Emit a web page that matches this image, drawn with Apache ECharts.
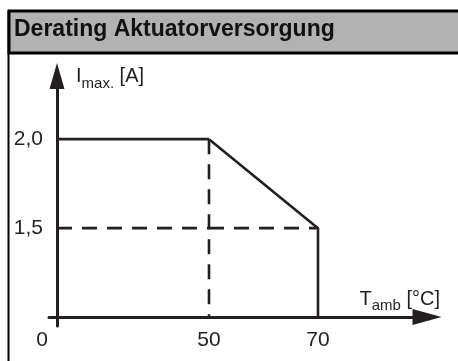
<!DOCTYPE html>
<html><head><meta charset="utf-8">
<script src="https://cdn.jsdelivr.net/npm/echarts@6/dist/echarts.min.js"></script>
<style>html,body{margin:0;padding:0;background:#fff}#c{width:458px;height:361px}</style>
</head><body><div id="c"></div>
<script>
// ---- data ----
const chartTitle = 'Derating Aktuatorversorgung';
const tempC = [0, 50, 70, 70];          // ambient temperature [°C]
const iMaxA = [2.0, 2.0, 1.5, 1.0];     // max current [A]
const kneeT = 50;                       // derating starts here (axis scale changes here)
const guideT = 50;                      // dashed vertical guide
const guideI = 1.5;                     // dashed horizontal guide
const yBase = 1.0;                      // value at the horizontal axis
const xTickValues = [0, 50, 70];
const xTickLabels = ['0', '50', '70'];
const yTickValues = [1.5, 2.0];
const yTickLabels = ['1,5', '2,0'];

// ---- layout / style ----
const FONT = "'Liberation Sans', Arial, sans-serif";
const INK = '#231f20';
const yMin = 0.95, yMax = 2.355;
const x1Min = -50 * 8 / 152, x2Max = 90;

const pts = tempC.map((t, i) => [t, iMaxA[i]]);
const leftPts = pts.filter(p => p[0] <= kneeT);
const rightPts = pts.filter(p => p[0] >= kneeT);
const iAtGuide = iMaxA[tempC.indexOf(guideT)];
const tEnd = tempC[tempC.length - 1];

function fmtX(v) {
  const i = xTickValues.indexOf(v);
  const s = i >= 0 ? xTickLabels[i] : '';
  return v === 0 ? '{o|' + s + '}' : s;
}
function fmtY(v) {
  const i = yTickValues.findIndex(t => Math.abs(t - v) < 1e-9);
  return i >= 0 ? yTickLabels[i] : '';
}

const solid = {color: INK, width: 2.6};
const dashed = {color: INK, width: 2.6, type: [15, 10]};
const baseSeries = {type: 'line', symbol: 'none', clip: false, silent: true, animation: false};

const axisLineStyle = {color: INK, width: 3};
const labelStyle = {fontFamily: FONT, fontSize: 21, color: INK};

const option = {
  animation: false,
  title: {
    text: chartTitle, left: 14, top: 18, padding: 0, z: 10,
    textStyle: {fontFamily: FONT, fontSize: 23, fontWeight: 'bold', color: '#111'}
  },
  graphic: [
    {type: 'rect', z: 0, shape: {x: 9, y: 11, width: 470, height: 42},
     style: {fill: '#b2b2b2', stroke: '#000', lineWidth: 3}},
    {type: 'line', z: 0, shape: {x1: 8.5, y1: 11, x2: 8.5, y2: 361},
     style: {stroke: '#000', lineWidth: 2}}
  ],
  grid: [
    {left: 49, top: 76, width: 160, height: 250, containLabel: false, outerBoundsMode: 'none'},
    {left: 209, top: 76, width: 218, height: 250, containLabel: false, outerBoundsMode: 'none'}
  ],
  xAxis: [
    {gridIndex: 0, type: 'value', min: x1Min, max: kneeT, offset: -9,
     axisLine: {show: true, onZero: false, lineStyle: axisLineStyle},
     axisTick: {show: false}, splitLine: {show: false},
     axisLabel: Object.assign({customValues: [0], formatter: fmtX, margin: 13,
       rich: {o: {fontFamily: FONT, fontSize: 21, color: INK, padding: [0, 30, 0, 0]}}}, labelStyle)},
    {gridIndex: 1, type: 'value', min: kneeT, max: x2Max, offset: -9,
     axisLine: {show: true, onZero: false, lineStyle: axisLineStyle,
       symbol: ['none', 'triangle'], symbolSize: [16, 29]},
     axisTick: {show: false}, splitLine: {show: false},
     axisLabel: Object.assign({customValues: xTickValues.filter(v => v >= kneeT), formatter: fmtX, margin: 13}, labelStyle),
     name: '{m|T}{s|amb}{m| [°C]}', nameLocation: 'end', nameGap: 13, nameMoveOverlap: false,
     nameTextStyle: {align: 'right', verticalAlign: 'bottom', padding: [0, 0, 8, 0],
       rich: {
         m: {fontFamily: FONT, fontSize: 20, color: INK, verticalAlign: 'top', lineHeight: 20},
         s: {fontFamily: FONT, fontSize: 15, color: INK, verticalAlign: 'top', lineHeight: 15, padding: [9, 0, 0, 0]}
       }}}
  ],
  yAxis: [
    {gridIndex: 0, type: 'value', min: yMin, max: yMax,
     axisLine: {show: true, onZero: true, lineStyle: axisLineStyle,
       symbol: ['none', 'triangle'], symbolSize: [15, 26]},
     axisTick: {show: false}, splitLine: {show: false},
     axisLabel: Object.assign({customValues: yTickValues, formatter: fmtY, margin: 6}, labelStyle),
     name: '{m|I}{s|max.}{m| [A]}', nameLocation: 'end', nameGap: 0, nameMoveOverlap: false,
     nameTextStyle: {align: 'left', verticalAlign: 'middle', padding: [0, 0, 0, 19],
       rich: {
         m: {fontFamily: FONT, fontSize: 20, color: INK, verticalAlign: 'top', lineHeight: 20},
         s: {fontFamily: FONT, fontSize: 15, color: INK, verticalAlign: 'top', lineHeight: 15, padding: [10, 0, 0, 0]}
       }}},
    {gridIndex: 1, type: 'value', min: yMin, max: yMax, show: false}
  ],
  series: [
    Object.assign({}, baseSeries, {xAxisIndex: 0, yAxisIndex: 0, data: leftPts, lineStyle: solid}),
    Object.assign({}, baseSeries, {xAxisIndex: 1, yAxisIndex: 1, data: rightPts, lineStyle: solid}),
    Object.assign({}, baseSeries, {xAxisIndex: 0, yAxisIndex: 0, data: [[0, guideI], [kneeT, guideI]], lineStyle: dashed}),
    Object.assign({}, baseSeries, {xAxisIndex: 1, yAxisIndex: 1, data: [[kneeT, guideI], [tEnd, guideI]], lineStyle: dashed}),
    Object.assign({}, baseSeries, {xAxisIndex: 1, yAxisIndex: 1, data: [[guideT, iAtGuide], [guideT, yBase]], lineStyle: dashed})
  ]
};
const chart = echarts.init(document.getElementById('c'), null, {renderer: 'canvas'});
chart.setOption(option);
</script></body></html>
